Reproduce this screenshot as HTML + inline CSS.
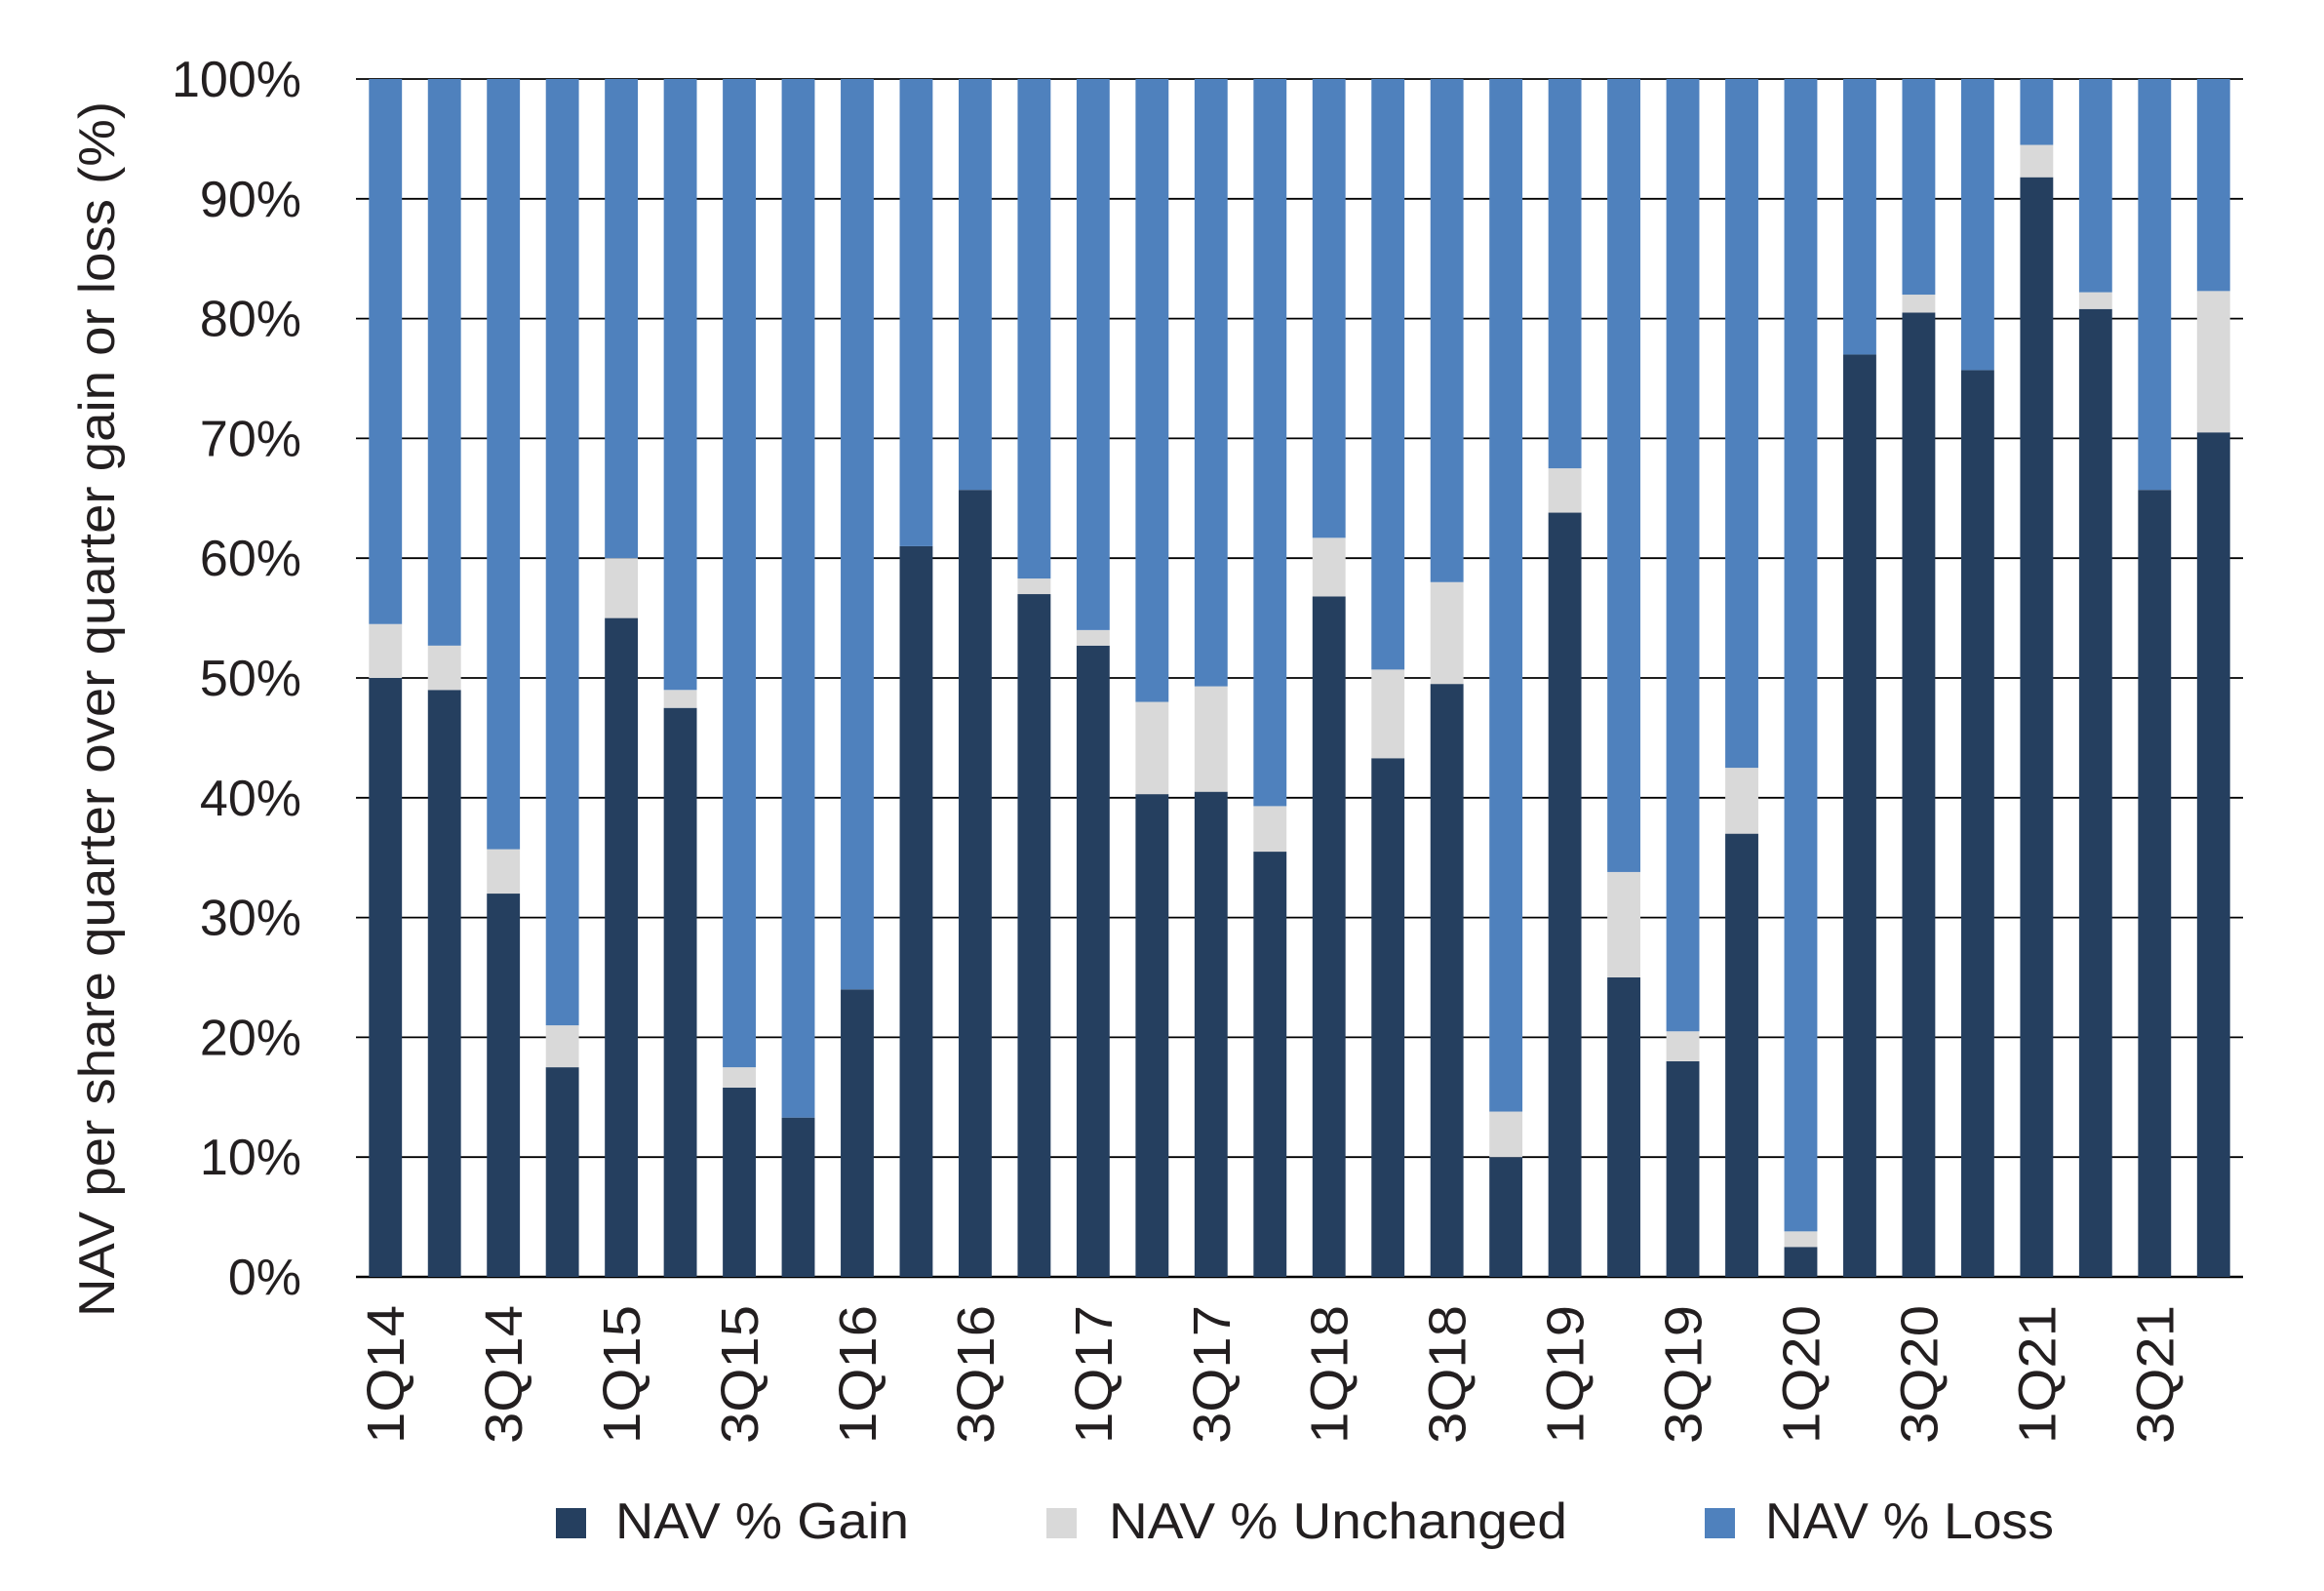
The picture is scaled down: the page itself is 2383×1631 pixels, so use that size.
<!DOCTYPE html>
<html><head><meta charset="utf-8"><style>
html,body{margin:0;padding:0;background:#fff;}
svg{display:block;font-family:"Liberation Sans",sans-serif;}
</style></head><body>
<svg id="chart" width="2383" height="1631" viewBox="0 0 2383 1631">
<text transform="translate(117,727) rotate(-90)" text-anchor="middle" font-size="52" textLength="1246" lengthAdjust="spacingAndGlyphs" fill="#231f20">NAV per share quarter over quarter gain or loss (%)</text>
<g id="grid"></g><g id="bars"></g><g id="labels"></g>
<g>
<rect x="570" y="1546" width="31" height="31" fill="#253f5f"/>
<text x="631" y="1577" font-size="52" textLength="301" lengthAdjust="spacingAndGlyphs" fill="#231f20">NAV % Gain</text>
<rect x="1073" y="1546" width="31" height="31" fill="#d9d9d9"/>
<text x="1137" y="1577" font-size="52" textLength="470" lengthAdjust="spacingAndGlyphs" fill="#231f20">NAV % Unchanged</text>
<rect x="1748" y="1546" width="31" height="31" fill="#4f81bd"/>
<text x="1810" y="1577" font-size="52" textLength="296" lengthAdjust="spacingAndGlyphs" fill="#231f20">NAV % Loss</text>
</g>
</svg>
<script>
const categories = ["1Q14","2Q14","3Q14","4Q14","1Q15","2Q15","3Q15","4Q15","1Q16","2Q16","3Q16","4Q16","1Q17","2Q17","3Q17","4Q17","1Q18","2Q18","3Q18","4Q18","1Q19","2Q19","3Q19","4Q19","1Q20","2Q20","3Q20","4Q20","1Q21","2Q21","3Q21","4Q21"];
const gain = [50,49,32,17.5,55,47.5,15.8,13.3,24,61,65.7,57,52.7,40.3,40.5,35.5,56.8,43.3,49.5,10,63.8,25,18,37,2.5,77,80.5,75.7,91.8,80.8,65.7,70.5];
const unchanged = [4.5,3.7,3.7,3.5,5,1.5,1.7,0,0,0,0,1.3,1.3,7.7,8.8,3.8,4.9,7.4,8.5,3.8,3.7,8.8,2.5,5.5,1.3,0,1.5,0,2.7,1.4,0,11.8];
const loss = [45.5,47.3,64.3,79,40,51,82.5,86.7,76,39,34.3,41.7,46,52,50.7,60.7,38.3,49.3,42,86.2,32.5,66.2,79.5,57.5,96.2,23,18,24.3,5.5,17.8,34.3,17.7];
const yTicks = [0,10,20,30,40,50,60,70,80,90,100];
const xLabelEvery = 2;

const NS="http://www.w3.org/2000/svg";
const L=365,R=2300,T=81,B=1309;
const band=(R-L)/categories.length, bw=band*0.56;
const y=v=>B-(v/100)*(B-T);
const xc=i=>L+band*(i+0.5);
function mk(tag,attrs,parent){const e=document.createElementNS(NS,tag);for(const k in attrs)e.setAttribute(k,attrs[k]);parent.appendChild(e);return e;}
const grid=document.getElementById('grid'),bars=document.getElementById('bars'),labels=document.getElementById('labels');
yTicks.forEach(t=>{
  const ln=mk('line',{x1:L,x2:R,y1:y(t),y2:y(t),stroke:'#000','stroke-width':t===0?2.5:1.8},grid);
  
  
  const tx=mk('text',{x:309,y:y(t)+18,'text-anchor':'end','font-size':52,fill:'#231f20'},labels);
  tx.textContent=t+'%';
  
  
});
categories.forEach((c,i)=>{
  const x=xc(i)-bw/2;
  const g0=gain[i],u0=unchanged[i],l0=loss[i];
  const segs=[[0,g0,'#253f5f','gain'],[g0,g0+u0,'#d9d9d9','unchanged'],[g0+u0,g0+u0+l0,'#4f81bd','loss']];
  segs.forEach(s=>{
    if(s[1]-s[0]<=0)return;
    const r=mk('rect',{x:x,y:y(s[1]),width:bw,height:y(s[0])-y(s[1]),fill:s[2]},bars);
    
    
  });
  if(i%xLabelEvery===0){
    const tx=mk('text',{transform:`translate(${xc(i)+19},1338) rotate(-90)`,'text-anchor':'end','font-size':54,textLength:142,lengthAdjust:'spacingAndGlyphs',fill:'#231f20'},labels);
    tx.textContent=c;
    
    
  }
});
</script>
</body></html>
